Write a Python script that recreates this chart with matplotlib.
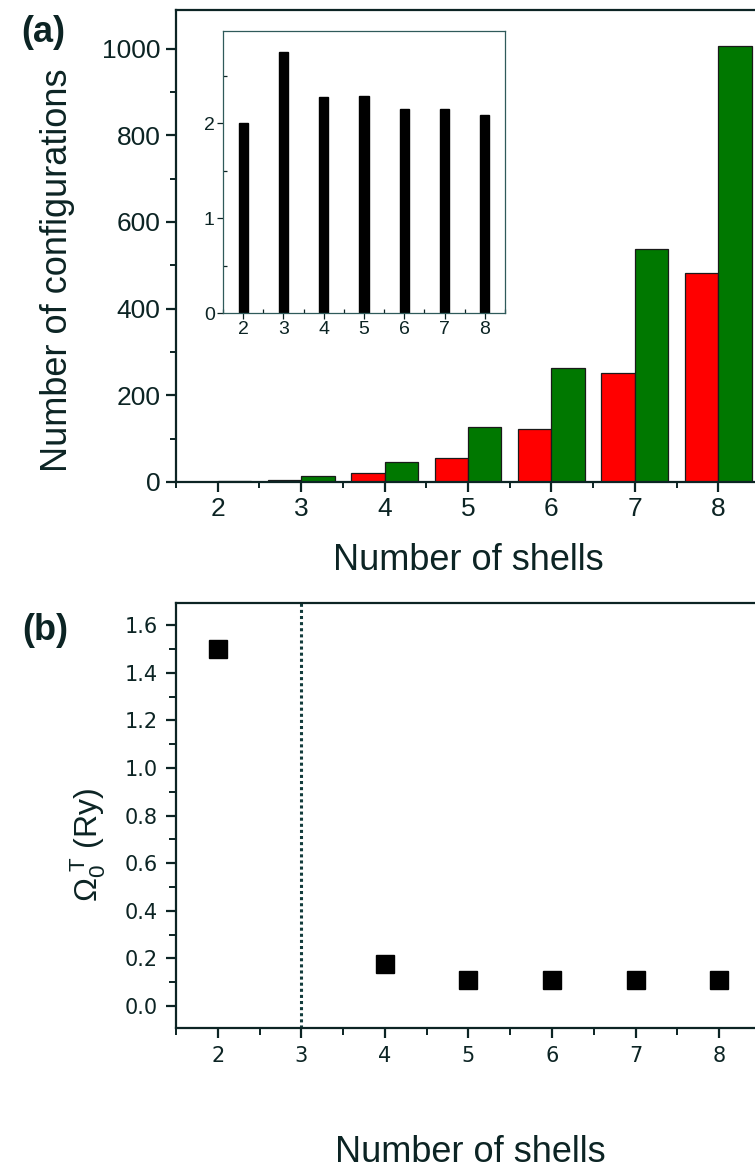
import matplotlib
matplotlib.use("Agg")
import matplotlib.pyplot as plt
from matplotlib.ticker import MultipleLocator

plt.rcParams['font.family'] = ['Liberation Sans', 'DejaVu Sans']
plt.rcParams['mathtext.fontset'] = 'custom'
plt.rcParams['mathtext.rm'] = 'Liberation Sans'
plt.rcParams['mathtext.it'] = 'Liberation Sans'

# ---- data ----
shells = [2, 3, 4, 5, 6, 7, 8]
red_counts = [1, 5, 20, 55, 122, 251, 482]
green_counts = [2, 14, 46, 127, 263, 537, 1006]
ratio = [2.0, 2.75, 2.28, 2.29, 2.15, 2.15, 2.09]
omega_shells = [2, 4, 5, 6, 7, 8]
omega_vals = [1.50, 0.175, 0.11, 0.11, 0.11, 0.11]

W, H = 755, 1169
fig = plt.figure(figsize=(W / 100, H / 100), dpi=100)
ink = '#0c2424'

def px_axes(l, t, r, b):
    return [l / W, 1 - b / H, (r - l) / W, (b - t) / H]

# ---- panel (a) ----
ax = fig.add_axes(px_axes(176, 10, 760, 482))
bw = 0.4
ax.bar([s - bw / 2 for s in shells], red_counts, width=bw, color='#ff0000',
       edgecolor='#1a1a1a', linewidth=0.9)
ax.bar([s + bw / 2 for s in shells], green_counts, width=bw, color='#007800',
       edgecolor='#1a1a1a', linewidth=0.9)
ax.set_xlim(1.5, 8.5)
ax.set_ylim(0, 1089)
ax.xaxis.set_major_locator(MultipleLocator(1))
ax.xaxis.set_minor_locator(MultipleLocator(0.5))
ax.yaxis.set_major_locator(MultipleLocator(200))
ax.yaxis.set_minor_locator(MultipleLocator(100))
for sp in ax.spines.values():
    sp.set_linewidth(1.6)
    sp.set_color(ink)
ax.tick_params(which='major', direction='out', length=7, width=1.6, labelsize=19,
               colors=ink, pad=4)
ax.tick_params(which='minor', direction='out', length=4, width=1.4, colors=ink)
ax.set_ylabel('Number of configurations', fontsize=26, color=ink)
ax.yaxis.set_label_coords(-0.173, 0.449)
ax.set_xlabel('Number of shells', fontsize=26, color=ink)
ax.xaxis.set_label_coords(0.5, -0.13)

# ---- inset ----
axi = fig.add_axes(px_axes(223, 31, 505, 313))
axi.bar(shells, ratio, width=0.23, color='black', edgecolor='black')
axi.set_xlim(1.5, 8.5)
axi.set_ylim(0, 2.97)
axi.xaxis.set_major_locator(MultipleLocator(1))
axi.xaxis.set_minor_locator(MultipleLocator(0.5))
axi.yaxis.set_major_locator(MultipleLocator(1))
axi.yaxis.set_minor_locator(MultipleLocator(0.5))
for sp in axi.spines.values():
    sp.set_linewidth(0.9)
    sp.set_color('#2f5a5a')
axi.tick_params(which='major', direction='out', length=4, width=0.9, labelsize=14,
                colors=ink, pad=2)
axi.tick_params(which='minor', direction='in', length=3, width=0.9, colors=ink)

# ---- panel (b) ----
bx = fig.add_axes(px_axes(176, 603, 761, 1028))
bx.plot(omega_shells, omega_vals, linestyle='none', marker='s', markersize=12.5,
        color='black')
bx.axvline(3, color='#123c3c', linestyle=(0, (1, 1)), linewidth=2.2)
bx.set_xlim(1.5, 8.5)
bx.set_ylim(-0.092, 1.693)
bx.xaxis.set_major_locator(MultipleLocator(1))
bx.xaxis.set_minor_locator(MultipleLocator(0.5))
bx.yaxis.set_major_locator(MultipleLocator(0.2))
bx.yaxis.set_minor_locator(MultipleLocator(0.1))
bx.yaxis.set_major_formatter(matplotlib.ticker.FormatStrFormatter('%.1f'))
for sp in bx.spines.values():
    sp.set_linewidth(1.6)
    sp.set_color(ink)
bx.tick_params(which='major', direction='out', length=7, width=1.6, labelsize=15,
               colors=ink, pad=6)
bx.tick_params(which='minor', direction='out', length=5, width=1.4, colors=ink)
for lab in bx.get_xticklabels() + bx.get_yticklabels():
    lab.set_family('DejaVu Sans')
bx.set_xlabel('Number of shells', fontsize=26, color=ink)
bx.xaxis.set_label_coords(0.503, -0.252)
bx.set_ylabel(r'$\Omega_0^{\ \mathregular{T}}$ (Ry)', fontsize=23, color=ink)
bx.yaxis.set_label_coords(-0.116, 0.43)

# ---- panel letters ----
fig.text(43 / W, 1 - 33 / H, '(a)', fontsize=26, fontweight='bold', ha='center',
         va='center', color=ink)
fig.text(45 / W, 1 - 630 / H, '(b)', fontsize=26, fontweight='bold', ha='center',
         va='center', color=ink)

fig.savefig('out.png', dpi=100)
